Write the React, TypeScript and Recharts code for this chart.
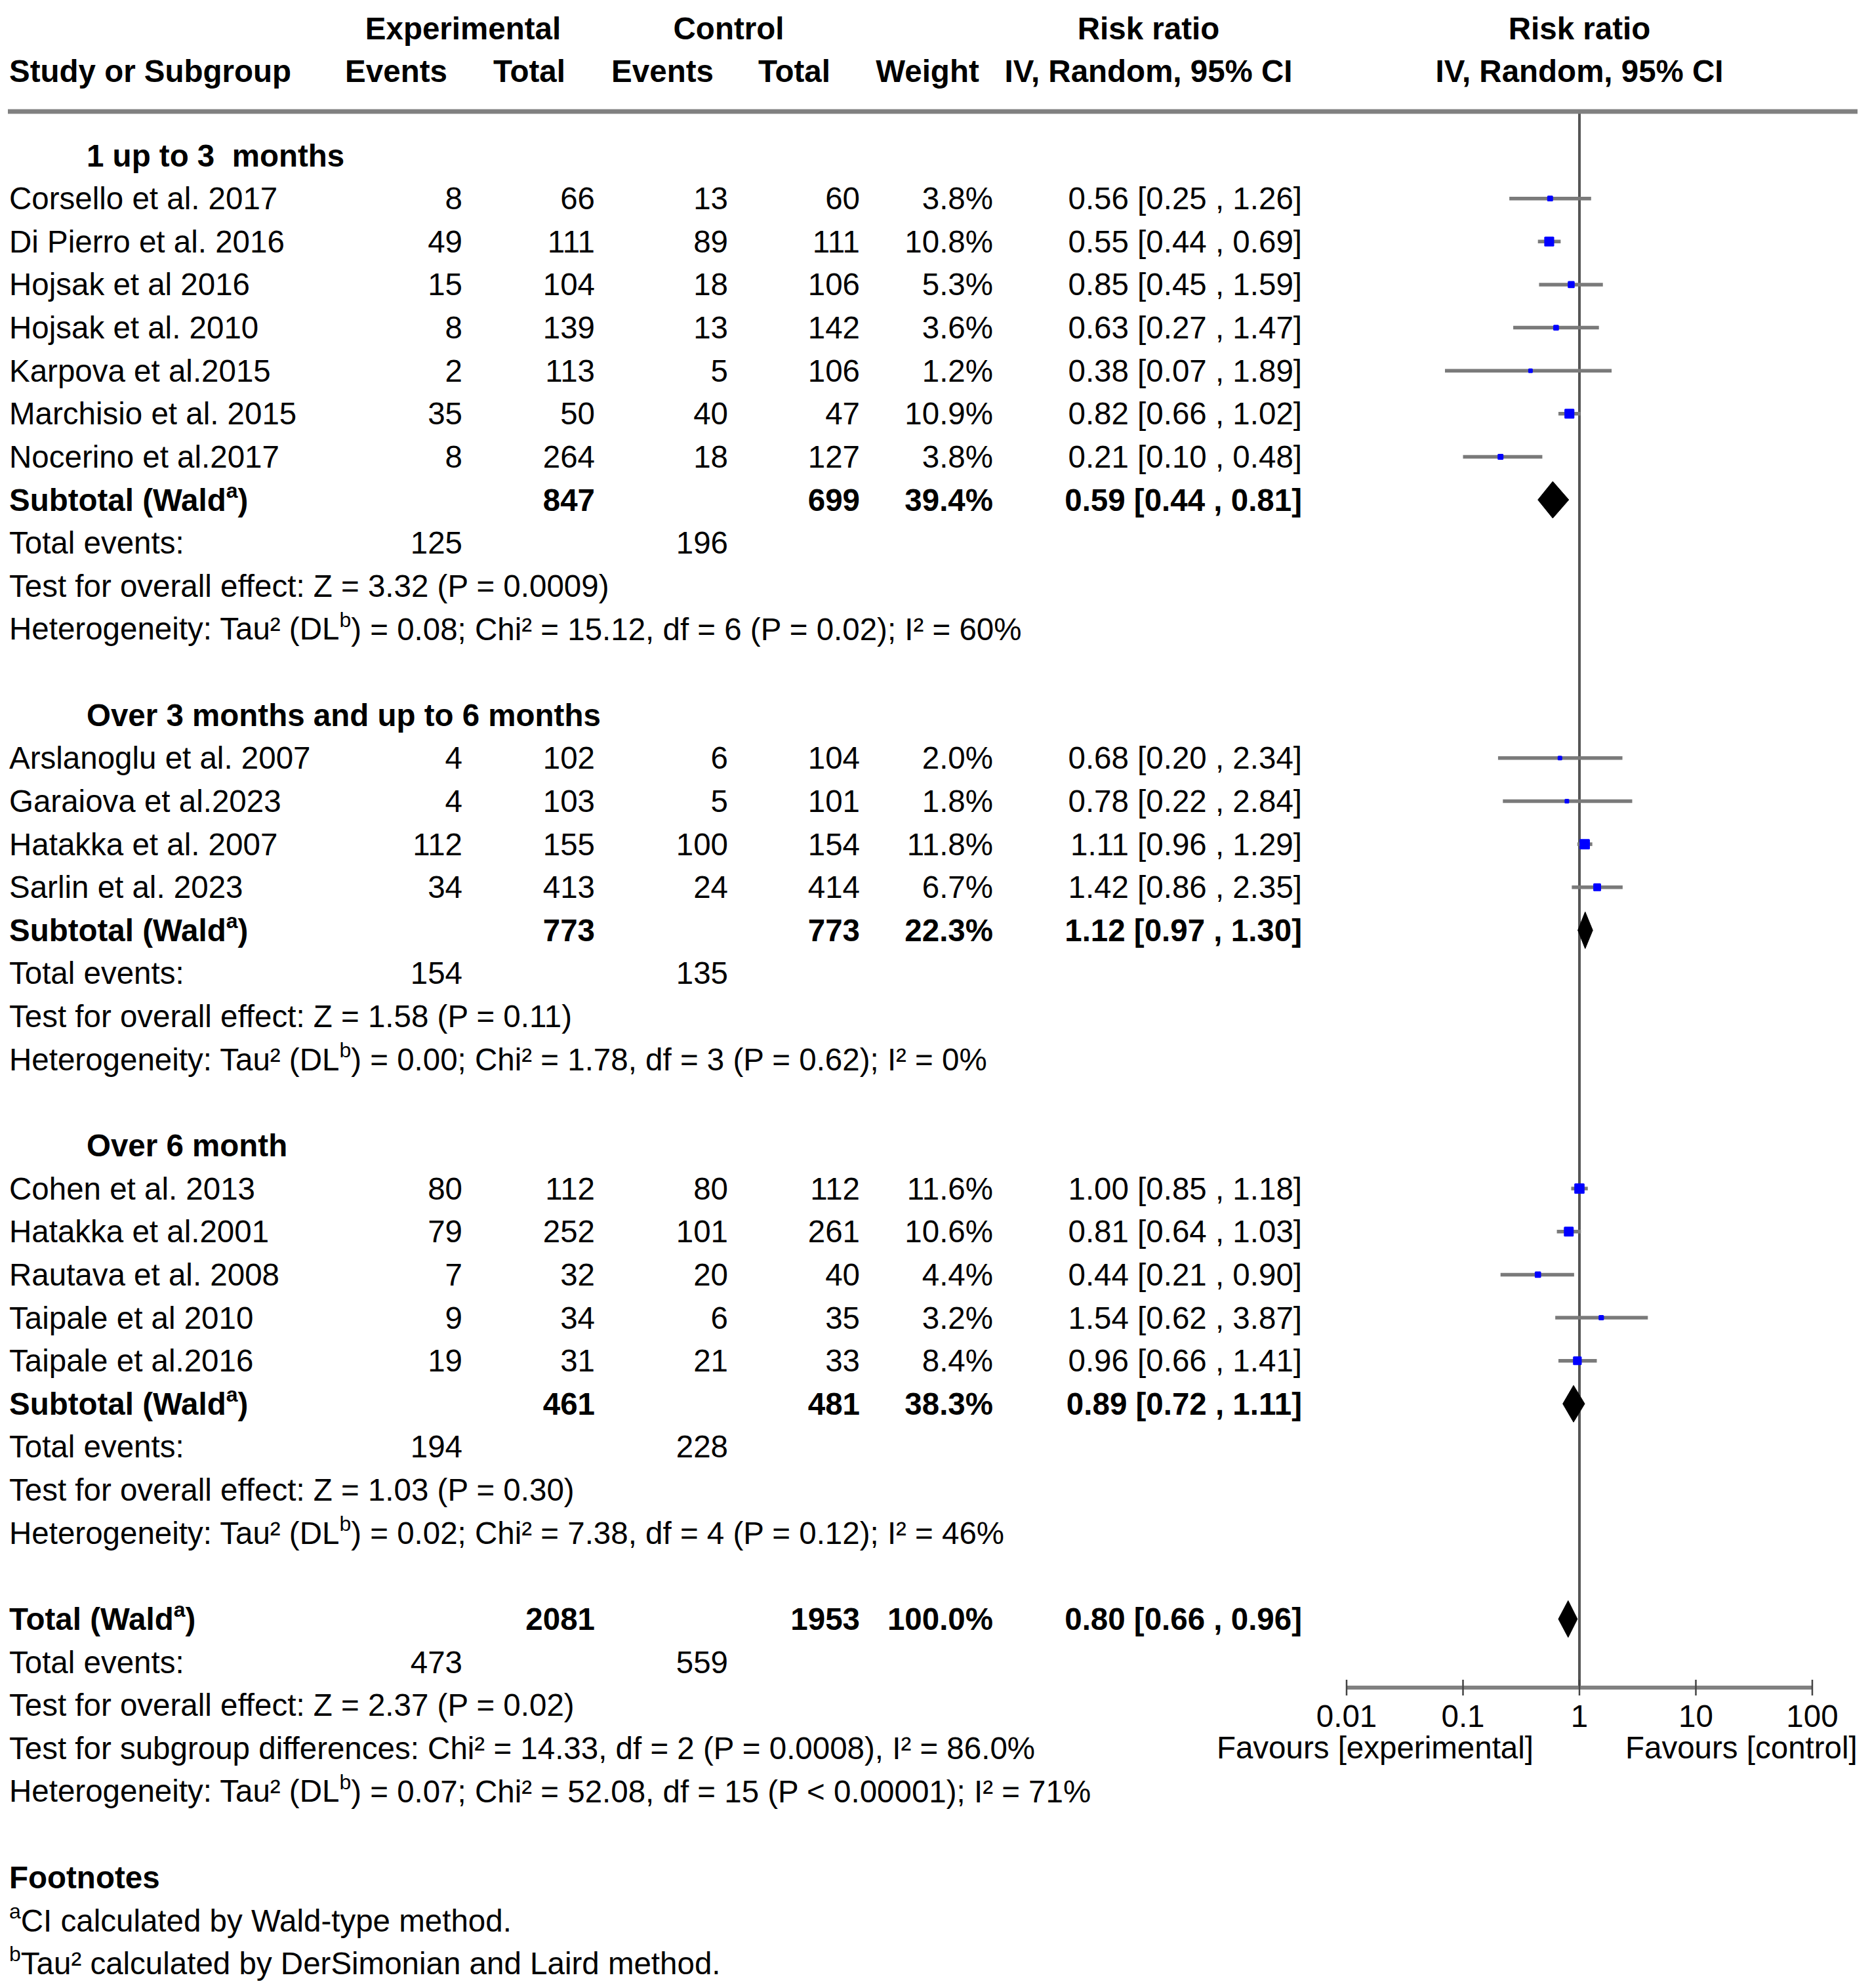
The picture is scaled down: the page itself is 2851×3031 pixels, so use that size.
import React from 'react';
import { ScatterChart, Scatter, XAxis, YAxis, ReferenceLine } from 'recharts';

// ---------- data ----------
const groupTitles = ['1 up to 3\u00a0 months', 'Over 3 months and up to 6 months', 'Over 6 month'];
const groupSizes = [7, 4, 5];

const studyNames = [
  'Corsello et al. 2017', 'Di Pierro et al. 2016', 'Hojsak et al 2016', 'Hojsak et al. 2010',
  'Karpova et al.2015', 'Marchisio et al. 2015', 'Nocerino et al.2017',
  'Arslanoglu et al. 2007', 'Garaiova et al.2023', 'Hatakka et al. 2007', 'Sarlin et al. 2023',
  'Cohen et al. 2013', 'Hatakka et al.2001', 'Rautava et al. 2008', 'Taipale et al 2010', 'Taipale et al.2016',
];
const expEvents = [8, 49, 15, 8, 2, 35, 8, 4, 4, 112, 34, 80, 79, 7, 9, 19];
const expTotals = [66, 111, 104, 139, 113, 50, 264, 102, 103, 155, 413, 112, 252, 32, 34, 31];
const ctrlEvents = [13, 89, 18, 13, 5, 40, 18, 6, 5, 100, 24, 80, 101, 20, 6, 21];
const ctrlTotals = [60, 111, 106, 142, 106, 47, 127, 104, 101, 154, 414, 112, 261, 40, 35, 33];
const weights = [3.8, 10.8, 5.3, 3.6, 1.2, 10.9, 3.8, 2.0, 1.8, 11.8, 6.7, 11.6, 10.6, 4.4, 3.2, 8.4];
const riskRatios = [0.56, 0.55, 0.85, 0.63, 0.38, 0.82, 0.21, 0.68, 0.78, 1.11, 1.42, 1.0, 0.81, 0.44, 1.54, 0.96];
const ciLows = [0.25, 0.44, 0.45, 0.27, 0.07, 0.66, 0.1, 0.2, 0.22, 0.96, 0.86, 0.85, 0.64, 0.21, 0.62, 0.66];
const ciHighs = [1.26, 0.69, 1.59, 1.47, 1.89, 1.02, 0.48, 2.34, 2.84, 1.29, 2.35, 1.18, 1.03, 0.9, 3.87, 1.41];

const subExpTotals = [847, 773, 461];
const subCtrlTotals = [699, 773, 481];
const subWeights = [39.4, 22.3, 38.3];
const subRR = [0.59, 1.12, 0.89];
const subLows = [0.44, 0.97, 0.72];
const subHighs = [0.81, 1.3, 1.11];
const subExpEvents = [125, 154, 194];
const subCtrlEvents = [196, 135, 228];
const subZ = ['3.32', '1.58', '1.03'];
const subP = ['0.0009', '0.11', '0.30'];
const subTau = ['0.08', '0.00', '0.02'];
const subChi = ['15.12', '1.78', '7.38'];
const subDf = [6, 3, 4];
const subHetP = ['0.02', '0.62', '0.12'];
const subI2 = ['60%', '0%', '46%'];

const totalExp = 2081;
const totalCtrl = 1953;
const totalWeight = 100.0;
const totalRR = 0.8;
const totalLow = 0.66;
const totalHigh = 0.96;
const totalExpEvents = 473;
const totalCtrlEvents = 559;

const axisTicks = [0.01, 0.1, 1, 10, 100];

// ---------- layout ----------
const W = 2851;
const H = 3031;
const PLOT_TOP = 170;
const PLOT_BOTTOM = 2573;
const PLOT_LEFT = 2053;
const PLOT_RIGHT = 2763;
const ROW0 = 237;
const ROWH = 65.63;
const yMin = (PLOT_TOP - ROW0) / ROWH;
const yMax = (PLOT_BOTTOM - ROW0) / ROWH;
const rowY = (r: number) => ROW0 + r * ROWH;

const FONT = '"Liberation Sans", Arial, Helvetica, sans-serif';
const FS = 47.5;
const COL = { name: 14, indent: 132, expEv: 705, expTot: 907, ctrlEv: 1110, ctrlTot: 1311, weight: 1514, ci: 1985 };

const fmt = (v: number) => v.toFixed(2);
const ciText = (rr: number, lo: number, hi: number) => `${fmt(rr)} [${fmt(lo)} , ${fmt(hi)}]`;

// assign rows
type RowItem = { r: number; kind: string; i: number };
const rowItems: RowItem[] = [];
let rc = 0;
let si = 0;
groupTitles.forEach((_, gi) => {
  rowItems.push({ r: rc++, kind: 'group', i: gi });
  for (let k = 0; k < groupSizes[gi]; k++) rowItems.push({ r: rc++, kind: 'study', i: si++ });
  rowItems.push({ r: rc++, kind: 'subtotal', i: gi });
  rowItems.push({ r: rc++, kind: 'events', i: gi });
  rowItems.push({ r: rc++, kind: 'test', i: gi });
  rowItems.push({ r: rc++, kind: 'het', i: gi });
  rc++;
});
const totalRow = rc;
rowItems.push({ r: rc++, kind: 'total', i: 0 });
rowItems.push({ r: rc++, kind: 'totEvents', i: 0 });
rowItems.push({ r: rc++, kind: 'totTest', i: 0 });
rowItems.push({ r: rc++, kind: 'subDiff', i: 0 });
rowItems.push({ r: rc++, kind: 'totHet', i: 0 });
rc++;
rowItems.push({ r: rc++, kind: 'footTitle', i: 0 });
rowItems.push({ r: rc++, kind: 'footA', i: 0 });
rowItems.push({ r: rc++, kind: 'footB', i: 0 });

const studyRow = (s: number) => rowItems.find((x) => x.kind === 'study' && x.i === s)!.r;
const subRow = (g: number) => rowItems.find((x) => x.kind === 'subtotal' && x.i === g)!.r;

const studyPoints = studyNames.map((_, s) => ({ x: riskRatios[s], y: studyRow(s), w: weights[s] }));
const ciPoints = studyNames.flatMap((_, s) => [
  { x: ciLows[s], y: studyRow(s) },
  { x: ciHighs[s], y: studyRow(s) },
]);
const diamondPoints = [
  ...subRR.flatMap((rr, g) => [
    { x: subLows[g], y: subRow(g) },
    { x: rr, y: subRow(g) },
    { x: subHighs[g], y: subRow(g) },
  ]),
  { x: totalLow, y: totalRow },
  { x: totalRR, y: totalRow },
  { x: totalHigh, y: totalRow },
];

// ---------- shapes ----------
const Empty = () => <g />;

const Square = (props: any) => {
  const { cx, cy, payload } = props;
  const s = Math.max(7, 4.6 * Math.sqrt(payload.w));
  return <rect x={cx - s / 2} y={cy - s / 2} width={s} height={s} rx={1.5} fill="#0000ff" />;
};

const CiLines = (props: any) => {
  const pts = props.points || [];
  const segs: any[] = [];
  for (let i = 0; i + 1 < pts.length; i += 2) {
    segs.push(
      <line key={i} x1={pts[i].x} y1={pts[i].y} x2={pts[i + 1].x} y2={pts[i + 1].y} stroke="#7a7a7a" strokeWidth={5.5} />
    );
  }
  return <g>{segs}</g>;
};

const Diamonds = (props: any) => {
  const pts = props.points || [];
  const polys: any[] = [];
  const half = 28;
  for (let i = 0; i + 2 < pts.length; i += 3) {
    const l = pts[i];
    const m = pts[i + 1];
    const r = pts[i + 2];
    polys.push(
      <polygon
        key={i}
        points={`${l.x},${l.y} ${m.x},${m.y - half} ${r.x},${r.y} ${m.x},${m.y + half}`}
        fill="#000"
        stroke="#000"
        strokeWidth={1}
      />
    );
  }
  return <g>{polys}</g>;
};

const AxisTick = (props: any) => {
  const { x, y, payload } = props;
  return (
    <g>
      <line x1={x} y1={y - 12} x2={x} y2={y + 12} stroke="#444" strokeWidth={2.5} />
      <text x={x} y={y + 43} textAnchor="middle" dominantBaseline="central" fontFamily={FONT} fontSize={FS} fill="#000">
        {String(payload.value)}
      </text>
    </g>
  );
};

// ---------- text overlay ----------
const Sup = ({ ch }: { ch: string }) => (
  <tspan fontSize={32} dy={-14}>
    {ch}
  </tspan>
);

const T = (p: { x: number; y: number; anchor?: string; bold?: boolean; children: any }) => (
  <text
    x={p.x}
    y={p.y}
    textAnchor={(p.anchor || 'start') as any}
    fontWeight={p.bold ? 'bold' : 'normal'}
    dominantBaseline="central"
    style={{ whiteSpace: 'pre' }}
  >
    {p.children}
  </text>
);

const hetLine = (tau: string, chi: string, df: number, p: string, i2: string) => (
  <>
    {'Heterogeneity: Tau² (DL'}
    <Sup ch="b" />
    <tspan dy={14}>{`) = ${tau}; Chi² = ${chi}, df = ${df} (P ${p}); I² = ${i2}`}</tspan>
  </>
);

const renderRow = (it: RowItem) => {
  const y = rowY(it.r);
  const k = `${it.kind}-${it.i}-${it.r}`;
  switch (it.kind) {
    case 'group':
      return (
        <T key={k} x={COL.indent} y={y} bold>
          {groupTitles[it.i]}
        </T>
      );
    case 'study': {
      const s = it.i;
      return (
        <g key={k}>
          <T x={COL.name} y={y}>{studyNames[s]}</T>
          <T x={COL.expEv} y={y} anchor="end">{expEvents[s]}</T>
          <T x={COL.expTot} y={y} anchor="end">{expTotals[s]}</T>
          <T x={COL.ctrlEv} y={y} anchor="end">{ctrlEvents[s]}</T>
          <T x={COL.ctrlTot} y={y} anchor="end">{ctrlTotals[s]}</T>
          <T x={COL.weight} y={y} anchor="end">{`${weights[s].toFixed(1)}%`}</T>
          <T x={COL.ci} y={y} anchor="end">{ciText(riskRatios[s], ciLows[s], ciHighs[s])}</T>
        </g>
      );
    }
    case 'subtotal': {
      const g = it.i;
      return (
        <g key={k}>
          <T x={COL.name} y={y} bold>
            {'Subtotal (Wald'}
            <Sup ch="a" />
            <tspan dy={14}>)</tspan>
          </T>
          <T x={COL.expTot} y={y} anchor="end" bold>{subExpTotals[g]}</T>
          <T x={COL.ctrlTot} y={y} anchor="end" bold>{subCtrlTotals[g]}</T>
          <T x={COL.weight} y={y} anchor="end" bold>{`${subWeights[g].toFixed(1)}%`}</T>
          <T x={COL.ci} y={y} anchor="end" bold>{ciText(subRR[g], subLows[g], subHighs[g])}</T>
        </g>
      );
    }
    case 'events':
      return (
        <g key={k}>
          <T x={COL.name} y={y}>Total events:</T>
          <T x={COL.expEv} y={y} anchor="end">{subExpEvents[it.i]}</T>
          <T x={COL.ctrlEv} y={y} anchor="end">{subCtrlEvents[it.i]}</T>
        </g>
      );
    case 'test':
      return (
        <T key={k} x={COL.name} y={y}>{`Test for overall effect: Z = ${subZ[it.i]} (P = ${subP[it.i]})`}</T>
      );
    case 'het':
      return (
        <T key={k} x={COL.name} y={y}>
          {hetLine(subTau[it.i], subChi[it.i], subDf[it.i], `= ${subHetP[it.i]}`, subI2[it.i])}
        </T>
      );
    case 'total':
      return (
        <g key={k}>
          <T x={COL.name} y={y} bold>
            {'Total (Wald'}
            <Sup ch="a" />
            <tspan dy={14}>)</tspan>
          </T>
          <T x={COL.expTot} y={y} anchor="end" bold>{totalExp}</T>
          <T x={COL.ctrlTot} y={y} anchor="end" bold>{totalCtrl}</T>
          <T x={COL.weight} y={y} anchor="end" bold>{`${totalWeight.toFixed(1)}%`}</T>
          <T x={COL.ci} y={y} anchor="end" bold>{ciText(totalRR, totalLow, totalHigh)}</T>
        </g>
      );
    case 'totEvents':
      return (
        <g key={k}>
          <T x={COL.name} y={y}>Total events:</T>
          <T x={COL.expEv} y={y} anchor="end">{totalExpEvents}</T>
          <T x={COL.ctrlEv} y={y} anchor="end">{totalCtrlEvents}</T>
        </g>
      );
    case 'totTest':
      return <T key={k} x={COL.name} y={y}>Test for overall effect: Z = 2.37 (P = 0.02)</T>;
    case 'subDiff':
      return (
        <T key={k} x={COL.name} y={y}>Test for subgroup differences: Chi² = 14.33, df = 2 (P = 0.0008), I² = 86.0%</T>
      );
    case 'totHet':
      return (
        <T key={k} x={COL.name} y={y}>
          {hetLine('0.07', '52.08', 15, '< 0.00001', '71%')}
        </T>
      );
    case 'footTitle':
      return <T key={k} x={COL.name} y={y} bold>Footnotes</T>;
    case 'footA':
      return (
        <T key={k} x={COL.name} y={y}>
          <Sup ch="a" />
          <tspan dy={14}>CI calculated by Wald-type method.</tspan>
        </T>
      );
    case 'footB':
      return (
        <T key={k} x={COL.name} y={y}>
          <Sup ch="b" />
          <tspan dy={14}>Tau² calculated by DerSimonian and Laird method.</tspan>
        </T>
      );
    default:
      return null;
  }
};

const Overlay = () => (
  <svg
    width={W}
    height={H}
    style={{ position: 'absolute', left: 0, top: 0, pointerEvents: 'none' }}
    fontFamily={FONT}
    fontSize={FS}
    fill="#000"
  >
    {/* header */}
    <T x={706} y={43} anchor="middle" bold>Experimental</T>
    <T x={1111} y={43} anchor="middle" bold>Control</T>
    <T x={1751} y={43} anchor="middle" bold>Risk ratio</T>
    <T x={2408} y={43} anchor="middle" bold>Risk ratio</T>
    <T x={COL.name} y={108} bold>Study or Subgroup</T>
    <T x={604} y={108} anchor="middle" bold>Events</T>
    <T x={807} y={108} anchor="middle" bold>Total</T>
    <T x={1010} y={108} anchor="middle" bold>Events</T>
    <T x={1211} y={108} anchor="middle" bold>Total</T>
    <T x={1414} y={108} anchor="middle" bold>Weight</T>
    <T x={1751} y={108} anchor="middle" bold>IV, Random, 95% CI</T>
    <T x={2408} y={108} anchor="middle" bold>IV, Random, 95% CI</T>
    <line x1={12} y1={PLOT_TOP} x2={2832} y2={PLOT_TOP} stroke="#808080" strokeWidth={7} />
    {rowItems.map(renderRow)}
    <T x={2338} y={2664} anchor="end">Favours [experimental]</T>
    <T x={2478} y={2664}>Favours [control]</T>
  </svg>
);

export default function App() {
  return (
    <div style={{ position: 'absolute', left: 0, top: 0, width: W, height: H, background: '#fff' }}>
      <ScatterChart
        width={W}
        height={H}
        margin={{ top: PLOT_TOP, right: W - PLOT_RIGHT, bottom: H - PLOT_BOTTOM - 30, left: PLOT_LEFT }}
      >
        <XAxis
          type="number"
          dataKey="x"
          scale="log"
          domain={[0.01, 100]}
          ticks={axisTicks}
          interval={0}
          allowDataOverflow
          height={30}
          axisLine={{ stroke: '#808080', strokeWidth: 6 }}
          tickLine={false}
          tickSize={0}
          tickMargin={0}
          tick={<AxisTick />}
        />
        <YAxis type="number" dataKey="y" domain={[yMin, yMax]} reversed hide width={0} allowDataOverflow />
        <ReferenceLine x={1} stroke="#555" strokeWidth={4} />
        <Scatter data={ciPoints} shape={Empty} line={CiLines} isAnimationActive={false} />
        <Scatter data={studyPoints} shape={Square} isAnimationActive={false} />
        <Scatter data={diamondPoints} shape={Empty} line={Diamonds} isAnimationActive={false} />
      </ScatterChart>
      <Overlay />
    </div>
  );
}
